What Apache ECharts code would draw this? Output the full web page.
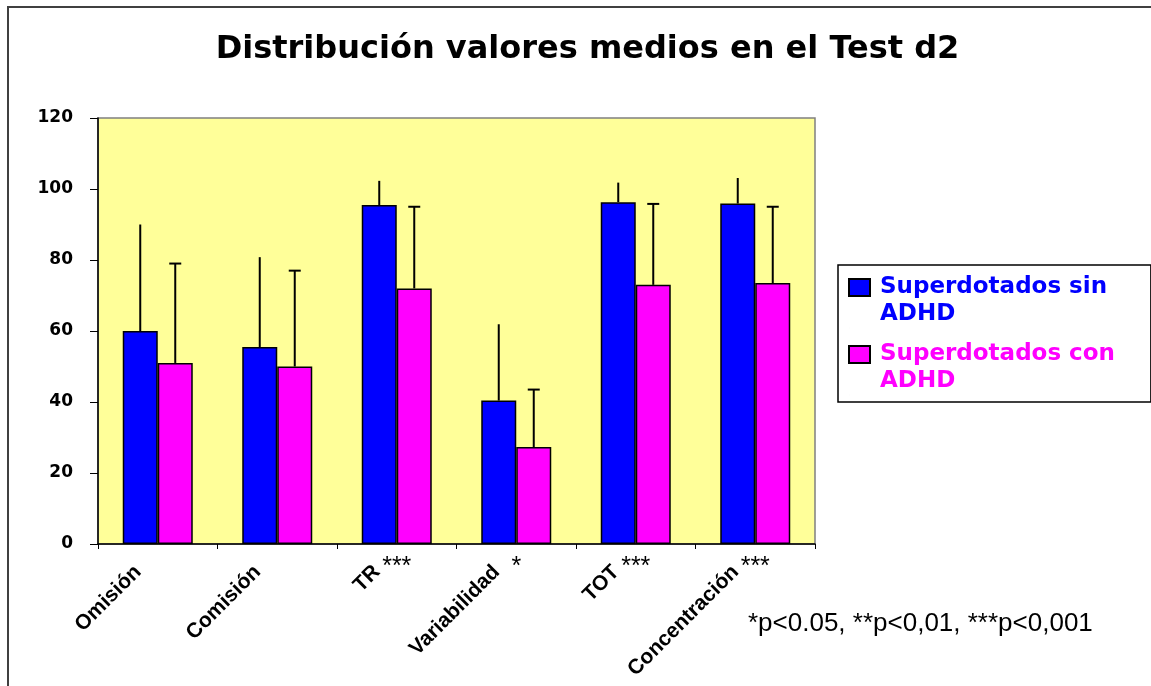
<!DOCTYPE html>
<html>
<head>
<meta charset="utf-8">
<script src="https://cdn.jsdelivr.net/npm/echarts@6/dist/echarts.min.js"></script>
<style>html,body{margin:0;padding:0;background:#fff}#c{width:1151px;height:686px}</style>
</head>
<body>
<div id="c"></div>
<script>
// ---- data ----
const categories = ['Omisión', 'Comisión', 'TR', 'Variabilidad', 'TOT', 'Concentración'];
const significance = ['', '', '***', '*', '***', '***'];
const seriesNames = ['Superdotados sin\nADHD', 'Superdotados con\nADHD'];
const sinADHD = [60, 55.5, 95.5, 40.4, 96.3, 95.9];
const sinADHDErrTop = [90, 80.8, 102.3, 61.9, 101.8, 103.1];
const conADHD = [51, 50, 72, 27.3, 73, 73.5];
const conADHDErrTop = [79, 77, 95, 43.5, 95.8, 95];
const yTicks = [0, 20, 40, 60, 80, 100, 120];
const titleText = 'Distribución valores medios en el Test d2';
const footnote = '*p<0.05, **p<0,01, ***p<0,001';

// ---- styles ----
const BAR_W = 35;
const BLUE = '#0000FF', PINK = '#FF00FF';

function errData(vals, tops) { return vals.map((v, i) => [i, v, tops[i]]); }
function errRender(sign, cap) {
  return function (params, api) {
    const i = api.value(0);
    const x = api.coord([i, 0])[0] + sign * BAR_W / 2;
    const yb = api.coord([i, api.value(1)])[1];
    const yt = api.coord([i, api.value(2)])[1];
    const children = [{ type: 'line', shape: { x1: x, y1: yb, x2: x, y2: yt }, style: { stroke: '#000', lineWidth: 2 } }];
    if (cap) children.push({ type: 'line', shape: { x1: x - 6, y1: yt, x2: x + 6, y2: yt }, style: { stroke: '#000', lineWidth: 2 } });
    return { type: 'group', children };
  };
}

const chart = echarts.init(document.getElementById('c'));
chart.setOption({
  animation: false,
  backgroundColor: '#fff',
  title: [
    { text: titleText, left: 582.5, top: 29, textAlign: 'center',
      textStyle: { fontFamily: 'DejaVu Sans', fontWeight: 'bold', fontSize: 32, color: '#000' } },
    { text: footnote, left: 743, top: 606,
      textStyle: { fontFamily: 'Liberation Sans', fontWeight: 'normal', fontSize: 26, color: '#000' } }
  ],
  graphic: [
    { type: 'rect', shape: { x: 8, y: 7, width: 1300, height: 800 }, style: { fill: 'none', stroke: '#404040', lineWidth: 2 }, silent: true, z: -10 }
  ],
  legend: {
    orient: 'vertical', left: 838, top: 265,
    padding: [8, 36, 6, 10], itemGap: 11,
    borderColor: '#000', borderWidth: 1.5,
    itemWidth: 21, itemHeight: 54,
    icon: 'path://M0,5L21,5L21,22L0,22Z M0,54L0.01,54 M0,0L0.01,0',
    textStyle: { fontFamily: 'DejaVu Sans', fontWeight: 'bold', fontSize: 23, lineHeight: 27, padding: [0, 0, 0, 5] },
    data: [
      { name: seriesNames[0], textStyle: { color: BLUE } },
      { name: seriesNames[1], textStyle: { color: PINK } }
    ]
  },
  grid: { left: 98, right: 336, top: 118, bottom: 142, outerBoundsMode: 'none', containLabel: false,
    show: true, backgroundColor: '#FFFF99', borderColor: '#808080', borderWidth: 1.5 },
  xAxis: [{
    type: 'category', data: categories,
    axisLine: { lineStyle: { color: '#000', width: 1.5 } },
    axisTick: { show: true, length: 5, lineStyle: { color: '#000' } },
    axisLabel: {
      interval: 0, rotate: 45, margin: 5, padding: [0, 28, 0, 0],
      fontFamily: 'Liberation Sans', fontWeight: 'bold', fontSize: 21, color: '#000'
    }
  }, {
    type: 'category', data: categories, position: 'bottom',
    axisLine: { show: false }, axisTick: { show: false }, splitLine: { show: false },
    axisLabel: {
      interval: 0, margin: 11,
      formatter: function (v, i) { return significance[i]; },
      fontFamily: 'Liberation Sans', fontWeight: 'normal', fontSize: 25, color: '#000'
    }
  }],
  yAxis: {
    type: 'value', min: yTicks[0], max: yTicks[yTicks.length - 1], interval: 20,
    splitLine: { show: false },
    axisLine: { show: true, lineStyle: { color: '#000', width: 1.5 } },
    axisTick: { show: true, length: 8, lineStyle: { color: '#000' } },
    axisLabel: { margin: 25, fontFamily: 'DejaVu Sans', fontWeight: 'bold', fontSize: 17, color: '#000' }
  },
  series: [
    { name: seriesNames[0], type: 'bar', data: sinADHD, barWidth: BAR_W, barGap: '0%',
      itemStyle: { color: BLUE, borderColor: '#000', borderWidth: 1.5 } },
    { name: seriesNames[1], type: 'bar', data: conADHD, barWidth: BAR_W, barGap: '0%',
      itemStyle: { color: PINK, borderColor: '#000', borderWidth: 1.5 } },
    { type: 'custom', renderItem: errRender(-1, false), data: errData(sinADHD, sinADHDErrTop), z: 5, encode: { x: 0, y: [1, 2] } },
    { type: 'custom', renderItem: errRender(1, true), data: errData(conADHD, conADHDErrTop), z: 5, encode: { x: 0, y: [1, 2] } }
  ]
});
</script>
</body>
</html>
